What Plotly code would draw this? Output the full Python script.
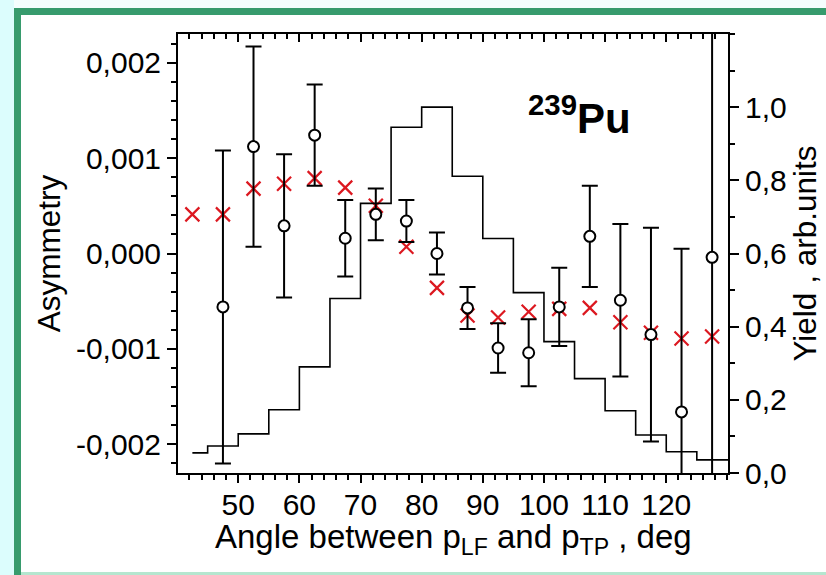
import plotly.graph_objects as go

# ---------------- data ----------------
angle = [42.5, 47.5, 52.5, 57.5, 62.5, 67.5, 72.5, 77.5, 82.5, 87.5,
         92.5, 97.5, 102.5, 107.5, 112.5, 117.5, 122.5, 127.5]
theory_asym = [0.00041, 0.00041, 0.00068, 0.00073, 0.00079, 0.00069, 0.00050, 0.00007,
               -0.00036, -0.00065, -0.00067, -0.00061, -0.00058, -0.00057, -0.00072,
               -0.00083, -0.00089, -0.00087]
yield_vals = [0.055, 0.074, 0.107, 0.173, 0.290, 0.477, 0.737, 0.945, 1.0, 0.811,
              0.641, 0.493, 0.359, 0.258, 0.170, 0.104, 0.058, 0.036]

exp_angle = [47.5, 52.5, 57.5, 62.5, 67.5, 72.5, 77.5, 82.5, 87.5,
             92.5, 97.5, 102.5, 107.5, 112.5, 117.5, 122.5, 127.5]
exp_asym = [-0.00056, 0.00112, 0.00029, 0.00124, 0.00016, 0.00041, 0.00034, 0.00000,
            -0.00057, -0.00099, -0.00104, -0.00056, 0.00018, -0.00049, -0.00085,
            -0.00166, -0.00004]
exp_err = [0.00164, 0.00105, 0.00075, 0.00053, 0.00040, 0.00027, 0.00022, 0.00022,
           0.00022, 0.00026, 0.00035, 0.00041, 0.00053, 0.00080, 0.00112,
           0.00171, 0.00300]

x_ticks = [50, 60, 70, 80, 90, 100, 110, 120]
y_ticks = [-0.002, -0.001, 0.0, 0.001, 0.002]
y_ticktext = ["-0,002", "-0,001", "0,000", "0,001", "0,002"]
y2_ticks = [0.0, 0.2, 0.4, 0.6, 0.8, 1.0]
y2_ticktext = ["0,0", "0,2", "0,4", "0,6", "0,8", "1,0"]

x_title = "Angle between p<sub>LF</sub> and p<sub>TP</sub> , deg"

# ---------------- layout geometry ----------------
W, H = 826, 575
L, R, T, B = 178, 98, 34, 102
PW, PH = W - L - R, H - T - B


def px_x(px):
    return (px - L) / PW


def px_y(py):
    return (H - B - py) / PH


FONT = "Arial, 'Liberation Sans', sans-serif"

fig = go.Figure()

# yield histogram (step, centred on bins), extended to right edge
fig.add_trace(go.Scatter(
    x=angle + [angle[-1] + 5], y=yield_vals + [yield_vals[-1]],
    mode="lines", line=dict(color="black", width=1.6, shape="hvh"),
    yaxis="y2", showlegend=False, hoverinfo="skip"))

# theory crosses
fig.add_trace(go.Scatter(
    x=angle, y=theory_asym, mode="markers",
    marker=dict(symbol="x-thin", size=14, line=dict(color="#dc1820", width=2.2)),
    showlegend=False))

# experimental points
fig.add_trace(go.Scatter(
    x=exp_angle, y=exp_asym, mode="markers",
    marker=dict(symbol="circle", size=11, color="white",
                line=dict(color="black", width=2)),
    error_y=dict(type="data", array=exp_err, visible=True,
                 color="black", thickness=2, width=8),
    showlegend=False))

# invisible trace for the top axis
fig.add_trace(go.Scatter(x=[angle[0]], y=[theory_asym[0]], xaxis="x2",
                         mode="markers", marker=dict(opacity=0),
                         showlegend=False, hoverinfo="skip"))

axis_common = dict(showgrid=False, zeroline=False, showline=True,
                   linecolor="black", linewidth=2, tickcolor="black")

fig.update_layout(
    width=W, height=H,
    margin=dict(l=L, r=R, t=T, b=B, pad=0),
    paper_bgcolor="white", plot_bgcolor="white",
    font=dict(family=FONT, color="black"),
    xaxis=dict(range=[40.15, 130.1], tickmode="array", tickvals=x_ticks,
               ticks="outside", ticklen=8, tickwidth=2, ticklabelstandoff=-4,
               tickfont=dict(family=FONT, size=30, color="black"),
               minor=dict(tickmode="linear", tick0=0, dtick=2, ticks="outside",
                          ticklen=5, tickwidth=1.5, tickcolor="black"),
               anchor="y", **axis_common),
    xaxis2=dict(overlaying="x", matches="x", side="top", anchor="y",
                range=[40.15, 130.1], tickmode="array", tickvals=x_ticks,
                showticklabels=False, ticks="inside", ticklen=8, tickwidth=2,
                minor=dict(tickmode="linear", tick0=0, dtick=2, ticks="inside",
                           ticklen=5, tickwidth=1.5, tickcolor="black"),
                **axis_common),
    yaxis=dict(range=[-0.0023, 0.0023], tickmode="array", tickvals=y_ticks,
               ticktext=y_ticktext, ticks="outside", ticklen=9, tickwidth=2,
               tickfont=dict(family=FONT, size=30, color="black"),
               minor=dict(tickmode="linear", tick0=0, dtick=0.0002, ticks="outside",
                          ticklen=5, tickwidth=1.5, tickcolor="black"),
               title=dict(text="Asymmetry", font=dict(family=FONT, size=31.5),
                          standoff=6),
               **axis_common),
    yaxis2=dict(range=[0, 1.2], overlaying="y", side="right", anchor="x",
                tickmode="array", tickvals=y2_ticks, ticktext=y2_ticktext,
                ticks="outside", ticklen=9, tickwidth=2,
                tickfont=dict(family=FONT, size=30, color="black"),
                minor=dict(tickmode="linear", tick0=0, dtick=0.1, ticks="outside",
                           ticklen=5, tickwidth=1.5, tickcolor="black"),
                title=dict(text="Yield , arb.units", font=dict(family=FONT, size=31.5),
                           standoff=6),
                **axis_common),
)

# x-axis title placed as an annotation for exact vertical placement
fig.add_annotation(x=px_x(453), y=px_y(539), xref="paper", yref="paper",
                   text=x_title, showarrow=False,
                   font=dict(family=FONT, size=33, color="black"),
                   xanchor="center", yanchor="middle")

# 239Pu label
fig.add_annotation(x=px_x(579), y=px_y(115), xref="paper", yref="paper",
                   text="<b><sup>239</sup>Pu</b>", showarrow=False,
                   font=dict(family=FONT, size=42, color="black"),
                   xanchor="center", yanchor="middle")

# decorative slide frame
shapes = [
    dict(x0=px_x(0), x1=px_x(14), y0=px_y(0), y1=px_y(575), fillcolor="#dcfdfd"),
    dict(x0=px_x(14), x1=px_x(826), y0=px_y(0), y1=px_y(8), fillcolor="#f4fefe"),
    dict(x0=px_x(14), x1=px_x(826), y0=px_y(8), y1=px_y(15), fillcolor="#379b6d"),
    dict(x0=px_x(14), x1=px_x(21), y0=px_y(8), y1=px_y(575), fillcolor="#379b6d"),
    dict(x0=px_x(21), x1=px_x(826), y0=px_y(572), y1=px_y(575), fillcolor="#b5e6cf"),
]
for s in shapes:
    fig.add_shape(type="rect", xref="paper", yref="paper", layer="below",
                  line=dict(width=0), **s)

fig.write_html("out.html")
